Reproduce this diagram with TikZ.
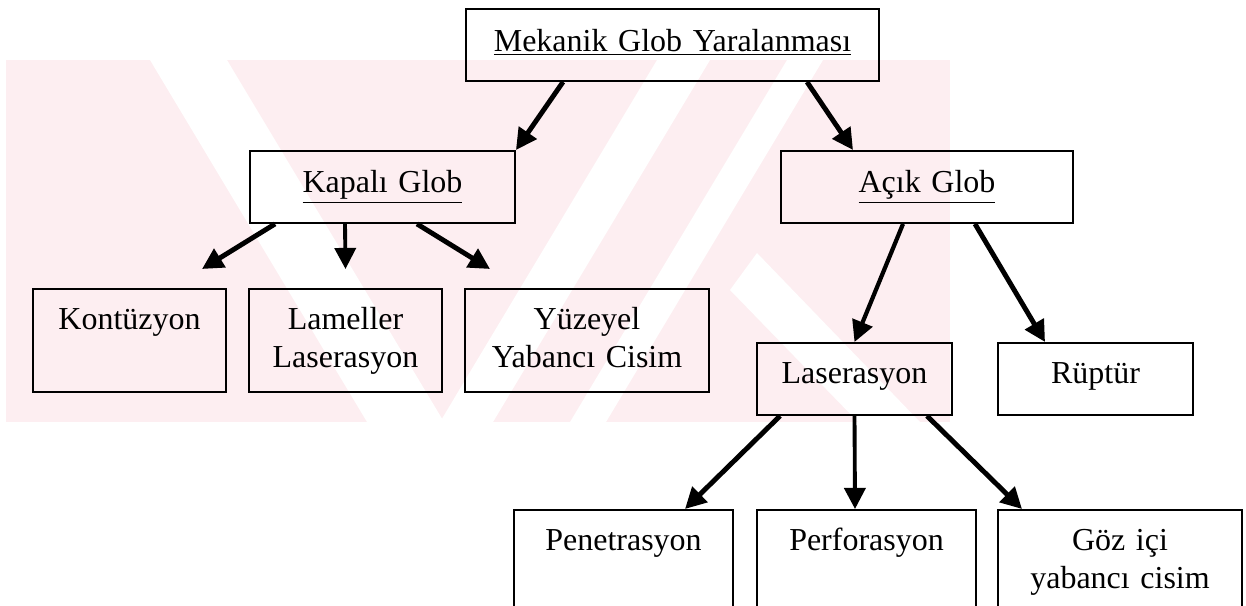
\documentclass[tikz,border=0pt]{standalone}
\usepackage{fontspec}
\setmainfont{Liberation Serif}
\usetikzlibrary{arrows.meta}
\definecolor{wmpink}{RGB}{253,238,241}

\begin{document}
\begin{tikzpicture}[x=0.02cm, y=-0.02cm,
  font=\fontsize{18.2pt}{21.5pt}\selectfont,
  box/.style={draw, line width=1.1pt, anchor=north, inner sep=0pt, align=center},
  toprow/.style={box, text height=0.86cm, text depth=0.58cm},
  midrow/.style={box, text height=0.84cm, text depth=0.6cm},
  lowrow/.style={box, text height=0.82cm, text depth=1.24cm},
  lasrow/.style={box, text height=0.82cm, text depth=0.62cm},
  arr/.style={line width=2.8pt, -{Triangle[length=12pt, width=12pt]}}]

\useasboundingbox (0,0) rectangle (1246,605);
\clip (0,0) rectangle (1246,605);

% watermark
\fill[wmpink] (6,60) rectangle (950,422);
\fill[white] (150,60) -- (227,60) -- (444,422) -- (367,422) -- cycle;
\fill[white] (657,60) -- (710,60) -- (493,422) -- (440,422) -- cycle;
\fill[white] (787,60) -- (823,60) -- (606,422) -- (570,422) -- cycle;
\fill[white] (757,253) -- (920,422) -- (858,422) -- (730,290) -- cycle;

\node[toprow, text width=8.26cm] (mek) at (672.5,8) {\underline{Mekanik Glob Yaralanması}};

\node[midrow, text width=5.3cm]  (kap) at (382.5,150) {\underline{Kapalı Glob}};
\node[midrow, text width=5.84cm] (aci) at (927,150)   {\underline{Açık Glob}};

\node[lowrow, text width=3.86cm] (kon) at (129.5,288) {Kontüzyon};
\node[lowrow, text width=3.86cm] (lam) at (345.5,288) {Lameller\\Laserasyon};
\node[lowrow, text width=4.88cm] (yuz) at (587,288)   {Yüzeyel\\Yabancı Cisim};

\node[lasrow, text width=3.9cm] (las) at (854.5,342)  {Laserasyon};
\node[lasrow, text width=3.9cm] (rup) at (1095.5,342) {Rüptür};

\node[lowrow, text width=4.38cm] (pen) at (623.5,509) {Penetrasyon};
\node[lowrow, text width=4.38cm] (per) at (866.5,509) {Perforasyon};
\node[lowrow, text width=4.88cm] (goz) at (1120,509)  {Göz içi\\yabancı cisim};

\draw[arr] ([xshift=-2.19cm]mek.south) -- (kap.north east);
\draw[arr] ([xshift=2.69cm]mek.south) -- ([xshift=-1.48cm]aci.north);

\draw[arr] ([xshift=-2.15cm]kap.south) -- ([xshift=1.45cm, yshift=0.38cm]kon.north);
\draw[arr, line width=2.2pt] ([xshift=-0.75cm]kap.south) -- ([yshift=0.38cm]lam.north);
\draw[arr] ([xshift=0.69cm]kap.south) -- ([xshift=-1.94cm, yshift=0.38cm]yuz.north);

\draw[arr, line width=2.4pt] ([xshift=-0.48cm]aci.south) -- (las.north);
\draw[arr] ([xshift=0.96cm]aci.south) -- ([xshift=-1.01cm]rup.north);

\draw[arr] ([xshift=-1.49cm]las.south) -- ([xshift=1.23cm]pen.north);
\draw[arr, line width=2.2pt] (las.south) -- ([xshift=-0.23cm]per.north);
\draw[arr] ([xshift=1.45cm]las.south) -- ([xshift=-1.96cm]goz.north);

\end{tikzpicture}
\end{document}
